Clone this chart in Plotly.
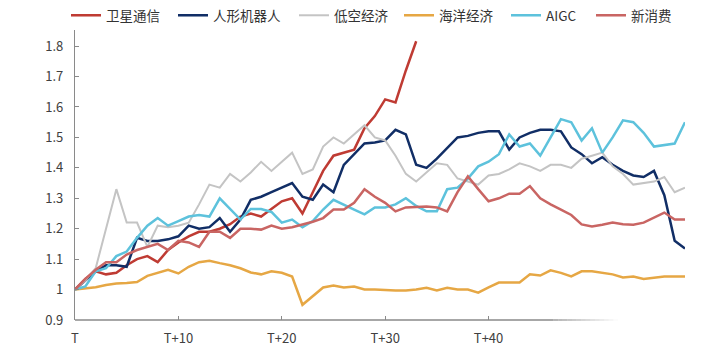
import plotly.graph_objects as go

days = list(range(60))

names = ["卫星通信", "人形机器人", "低空经济", "海洋经济", "AIGC", "新消费"]

weixing = [1.00, 1.035, 1.06, 1.05, 1.055, 1.08, 1.10, 1.11, 1.09, 1.13,
           1.155, 1.175, 1.19, 1.19, 1.20, 1.215, 1.24, 1.25, 1.24, 1.265,
           1.29, 1.30, 1.25, 1.32, 1.39, 1.44, 1.45, 1.46, 1.53, 1.57,
           1.625, 1.615, 1.72, 1.816]

robot = [1.00, 1.03, 1.06, 1.08, 1.08, 1.075, 1.17, 1.16, 1.16, 1.165,
         1.175, 1.21, 1.20, 1.205, 1.235, 1.19, 1.23, 1.295, 1.305, 1.32,
         1.335, 1.35, 1.305, 1.295, 1.345, 1.32, 1.41, 1.445, 1.48, 1.483,
         1.49, 1.525, 1.51, 1.41, 1.40, 1.43, 1.465, 1.50, 1.505, 1.515,
         1.52, 1.52, 1.46, 1.50, 1.515, 1.525, 1.525, 1.52, 1.467, 1.445,
         1.415, 1.435, 1.41, 1.39, 1.375, 1.37, 1.39, 1.31, 1.16, 1.135]

dikong = [1.00, 1.03, 1.07, 1.20, 1.33, 1.22, 1.22, 1.14, 1.21, 1.205,
          1.21, 1.22, 1.28, 1.345, 1.335, 1.38, 1.355, 1.385, 1.42, 1.39,
          1.42, 1.45, 1.38, 1.395, 1.47, 1.50, 1.48, 1.51, 1.54, 1.50,
          1.49, 1.44, 1.38, 1.355, 1.385, 1.415, 1.41, 1.365, 1.355, 1.345,
          1.375, 1.38, 1.395, 1.415, 1.405, 1.39, 1.41, 1.41, 1.40, 1.43,
          1.44, 1.45, 1.405, 1.38, 1.345, 1.35, 1.355, 1.37, 1.32, 1.335]

haiyang = [1.00, 1.003, 1.008, 1.015, 1.02, 1.022, 1.025, 1.045, 1.055, 1.065,
           1.053, 1.075, 1.09, 1.095, 1.087, 1.08, 1.07, 1.056, 1.05, 1.06,
           1.055, 1.043, 0.95, 0.977, 1.007, 1.013, 1.007, 1.01, 1.00, 1.00,
           0.998, 0.997, 0.997, 1.00, 1.006, 0.997, 1.006, 1.00, 1.00, 0.99,
           1.007, 1.023, 1.023, 1.023, 1.05, 1.046, 1.063, 1.055, 1.043, 1.06,
           1.06, 1.055, 1.05, 1.04, 1.043, 1.035, 1.04, 1.043, 1.043, 1.043]

aigc = [1.00, 1.01, 1.06, 1.07, 1.11, 1.125, 1.17, 1.21, 1.235, 1.21,
        1.225, 1.24, 1.245, 1.24, 1.30, 1.265, 1.23, 1.265, 1.265, 1.255,
        1.22, 1.23, 1.205, 1.225, 1.263, 1.295, 1.28, 1.263, 1.247, 1.27,
        1.27, 1.28, 1.30, 1.275, 1.257, 1.257, 1.33, 1.335, 1.365, 1.405,
        1.42, 1.445, 1.51, 1.47, 1.48, 1.44, 1.50, 1.56, 1.55, 1.49,
        1.53, 1.45, 1.50, 1.556, 1.55, 1.515, 1.47, 1.475, 1.48, 1.55]

xinxiaofei = [1.00, 1.035, 1.065, 1.09, 1.09, 1.115, 1.13, 1.14, 1.15, 1.13,
              1.16, 1.155, 1.14, 1.19, 1.19, 1.17, 1.20, 1.20, 1.197, 1.21,
              1.20, 1.205, 1.213, 1.223, 1.235, 1.263, 1.263, 1.285, 1.33, 1.305,
              1.285, 1.257, 1.27, 1.272, 1.273, 1.27, 1.257, 1.32, 1.372, 1.33,
              1.29, 1.30, 1.315, 1.315, 1.34, 1.30, 1.28, 1.263, 1.245, 1.214,
              1.207, 1.213, 1.22, 1.215, 1.213, 1.22, 1.237, 1.253, 1.23, 1.23]

series = [weixing, robot, dikong, haiyang, aigc, xinxiaofei]
colors = ["#BF3B33", "#112E66", "#C4C4C4", "#E6A744", "#5DC2DC", "#C96563"]
widths = [2.5, 2.5, 2.0, 2.5, 2.5, 2.5]

tick_vals = [0, 10, 20, 30, 40]
tick_text = ["T", "T+10", "T+20", "T+30", "T+40"]
y_ticks = [0.9, 1.0, 1.1, 1.2, 1.3, 1.4, 1.5, 1.6, 1.7, 1.8]

# left edge (px) of each legend entry, one legend per series
legend_left_px = [66, 173, 294, 399, 506, 591]

fig = go.Figure()
legend_ids = ["legend"] + [f"legend{i}" for i in range(2, len(names) + 1)]
for name, vals, c, w, lid in zip(names, series, colors, widths, legend_ids):
    fig.add_trace(go.Scatter(x=days[:len(vals)], y=vals, mode="lines", name=name,
                             line=dict(color=c, width=w), legend=lid))

AXIS_COLOR = "#8a8a8a"
font_family = "Noto Sans CJK SC, Noto Sans, sans-serif"

# x axis line that fades out toward the right
FADE_START, FADE_END, N_FADE = 46.3, 52.5, 14
fig.add_shape(type="line", xref="x", yref="paper", x0=0, x1=FADE_START, y0=0, y1=0,
              line=dict(color=AXIS_COLOR, width=1.3))
step = (FADE_END - FADE_START) / N_FADE
for i in range(N_FADE):
    fig.add_shape(type="line", xref="x", yref="paper",
                  x0=FADE_START + i * step, x1=FADE_START + (i + 1) * step, y0=0, y1=0,
                  line=dict(color=AXIS_COLOR, width=1.3), opacity=1 - (i + 0.5) / N_FADE)

legend_layout = {}
for lid, lx in zip(legend_ids, legend_left_px):
    legend_layout[lid] = dict(orientation="h", x=lx / 719, xref="container", xanchor="left",
                              y=1.0, yref="container", yanchor="top",
                              font=dict(size=13.5, color="#333333"),
                              bgcolor="rgba(0,0,0,0)", itemwidth=30)

fig.update_layout(
    width=719, height=352,
    margin=dict(l=75, r=34, t=30, b=32, autoexpand=False),
    paper_bgcolor="white", plot_bgcolor="white",
    font=dict(family=font_family, size=13, color="#404040"),
    showlegend=True,
    xaxis=dict(range=[0, 59], showgrid=False, zeroline=False, showline=False,
               tickmode="array", tickvals=tick_vals, ticktext=tick_text,
               ticks="inside", ticklen=4, tickcolor=AXIS_COLOR, tickwidth=1,
               ticklabelstandoff=9, tickfont=dict(size=13)),
    yaxis=dict(range=[0.9, 1.853], showgrid=False, zeroline=False,
               showline=True, linecolor=AXIS_COLOR, linewidth=1.3,
               tickmode="array", tickvals=y_ticks,
               ticks="inside", ticklen=4, tickcolor=AXIS_COLOR, tickwidth=1,
               ticklabelstandoff=8, tickfont=dict(size=13)),
    **legend_layout,
)

fig.write_html("out.html")
